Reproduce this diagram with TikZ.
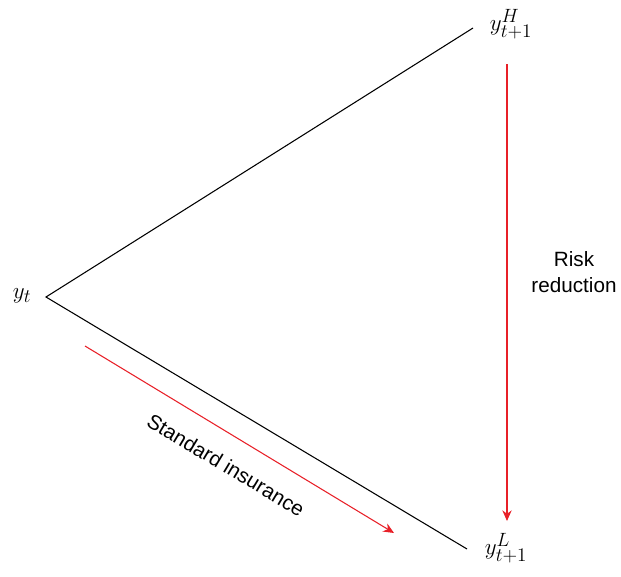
\documentclass[tikz,border=0pt]{standalone}
\usepackage{fontspec}
\setsansfont{Liberation Sans}
\usetikzlibrary{arrows.meta}
\definecolor{arrowred}{RGB}{232,32,40}
\begin{document}
\begin{tikzpicture}[x=0.75pt,y=-0.75pt,
    branch/.style={line width=0.8pt},
    movearrow/.style={arrowred,line width=0.8pt,-{Stealth[length=8pt,width=7pt]}},
    state/.style={font=\fontsize{19}{22}\selectfont},
    lbl/.style={font=\sffamily\fontsize{15.5}{19}\selectfont,align=center}]

\useasboundingbox (0,0) rectangle (621,576);

% Etats
\node[state] (yt) at (22,296) {$y_t$};
\node[state] (yH) at (511,24) {$y^H_{t+1}$};
\node[state] (yL) at (506,548) {$y^L_{t+1}$};

\coordinate (apex) at (46,297);
\coordinate (topend) at (473,28);
\coordinate (lowend) at (467,549);

\draw[branch] (topend) -- (apex) -- (lowend);

% Reduction du risque
\coordinate (rtop) at (507,64);
\coordinate (rlow) at (507,521);
\draw[movearrow] (rtop) -- (rlow);
\node[lbl] (risk) at (574,272) {Risk\\reduction};

% Assurance classique
\coordinate (sstart) at (85,346);
\coordinate (send) at (394,533);
\draw[movearrow] (sstart) -- (send);
\node[lbl,rotate=-31] (std) at (226,465) {Standard insurance};

\end{tikzpicture}
\end{document}
